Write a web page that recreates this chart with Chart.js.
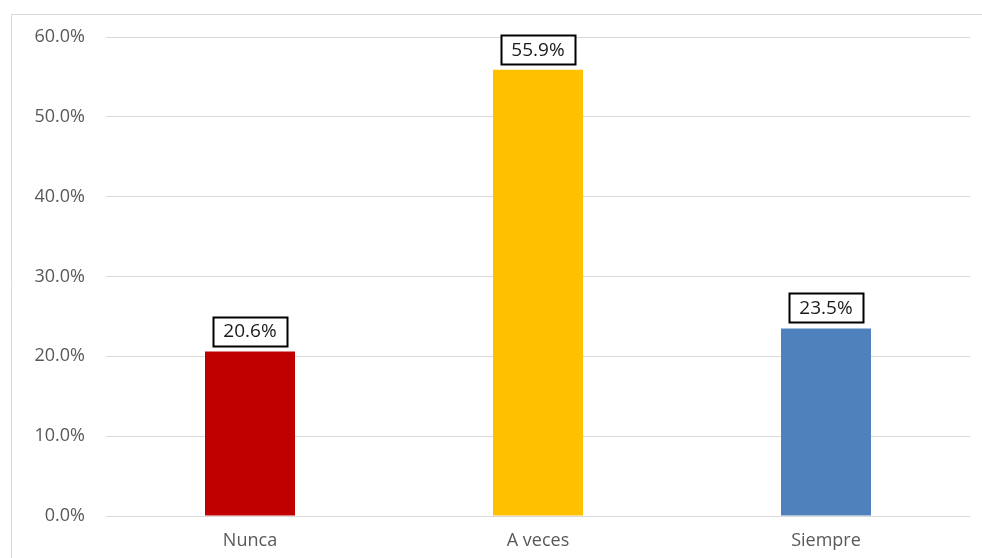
<!DOCTYPE html>
<html><head><meta charset="utf-8">
<script src="https://cdn.jsdelivr.net/npm/chart.js@4/dist/chart.umd.min.js"></script>
<style>html,body{margin:0;padding:0;background:#fff}#wrap{width:982px;height:558px;position:relative}</style>
</head><body><div id="wrap"><canvas id="c" width="982" height="558"></canvas></div>
<script>
const categories = ["Nunca", "A veces", "Siempre"];
const values = [20.6, 55.9, 23.5];
const barColors = ["#C00000", "#FFC000", "#4F81BD"];
const yTicks = [0, 10, 20, 30, 40, 50, 60];

const frame = {
  id: 'frame',
  beforeDraw(chart) {
    const ctx = chart.ctx;
    ctx.save();
    ctx.strokeStyle = '#d9d9d9';
    ctx.lineWidth = 1;
    ctx.beginPath();
    ctx.moveTo(11.5, 600); ctx.lineTo(11.5, 14.5); ctx.lineTo(1000, 14.5);
    ctx.stroke();
    ctx.restore();
  }
};
const boxLabels = {
  id: 'boxLabels',
  afterDatasetsDraw(chart) {
    const ctx = chart.ctx;
    const meta = chart.getDatasetMeta(0);
    ctx.save();
    ctx.font = '19px "Open Sans"';
    ctx.textAlign = 'center';
    ctx.textBaseline = 'middle';
    meta.data.forEach((bar, i) => {
      const txt = values[i].toFixed(1) + '%';
      const w = 74, h = 29;
      const x = bar.x - w / 2, y = bar.y - 6 - h;
      ctx.fillStyle = '#fff';
      ctx.fillRect(x, y, w, h);
      ctx.strokeStyle = '#000';
      ctx.lineWidth = 2;
      ctx.strokeRect(Math.round(x) + 0.5, Math.round(y) + 0.5, w, h);
      ctx.fillStyle = '#1a1a1a';
      ctx.fillText(txt, bar.x, y + h / 2 + 1);
    });
    ctx.restore();
  }
};

new Chart(document.getElementById('c'), {
  type: 'bar',
  data: {
    labels: categories,
    datasets: [{ data: values, backgroundColor: barColors, barPercentage: 0.3125, categoryPercentage: 1.0 }]
  },
  options: {
    responsive: false,
    animation: false,
    layout: { padding: { left: 0, right: 12, top: 37, bottom: 0 } },
    plugins: { legend: { display: false }, tooltip: { enabled: false } },
    scales: {
      x: {
        afterFit(scale) { scale.height = 42; },
        grid: { display: false, drawTicks: false },
        border: { display: false },
        ticks: { color: '#595959', font: { family: 'Open Sans', size: 18 }, padding: 14 }
      },
      y: {
        min: 0, max: 60,
        afterBuildTicks(scale) { scale.ticks = yTicks.map(v => ({ value: v })); },
        afterFit(scale) { scale.width = 106; },
        grid: { color: '#d9d9d9', drawTicks: false },
        border: { display: false },
        ticks: { color: '#595959', font: { family: 'Open Sans', size: 18 }, padding: 21,
          callback: v => v.toFixed(1) + '%' }
      }
    }
  },
  plugins: [frame, boxLabels]
});
</script></body></html>
